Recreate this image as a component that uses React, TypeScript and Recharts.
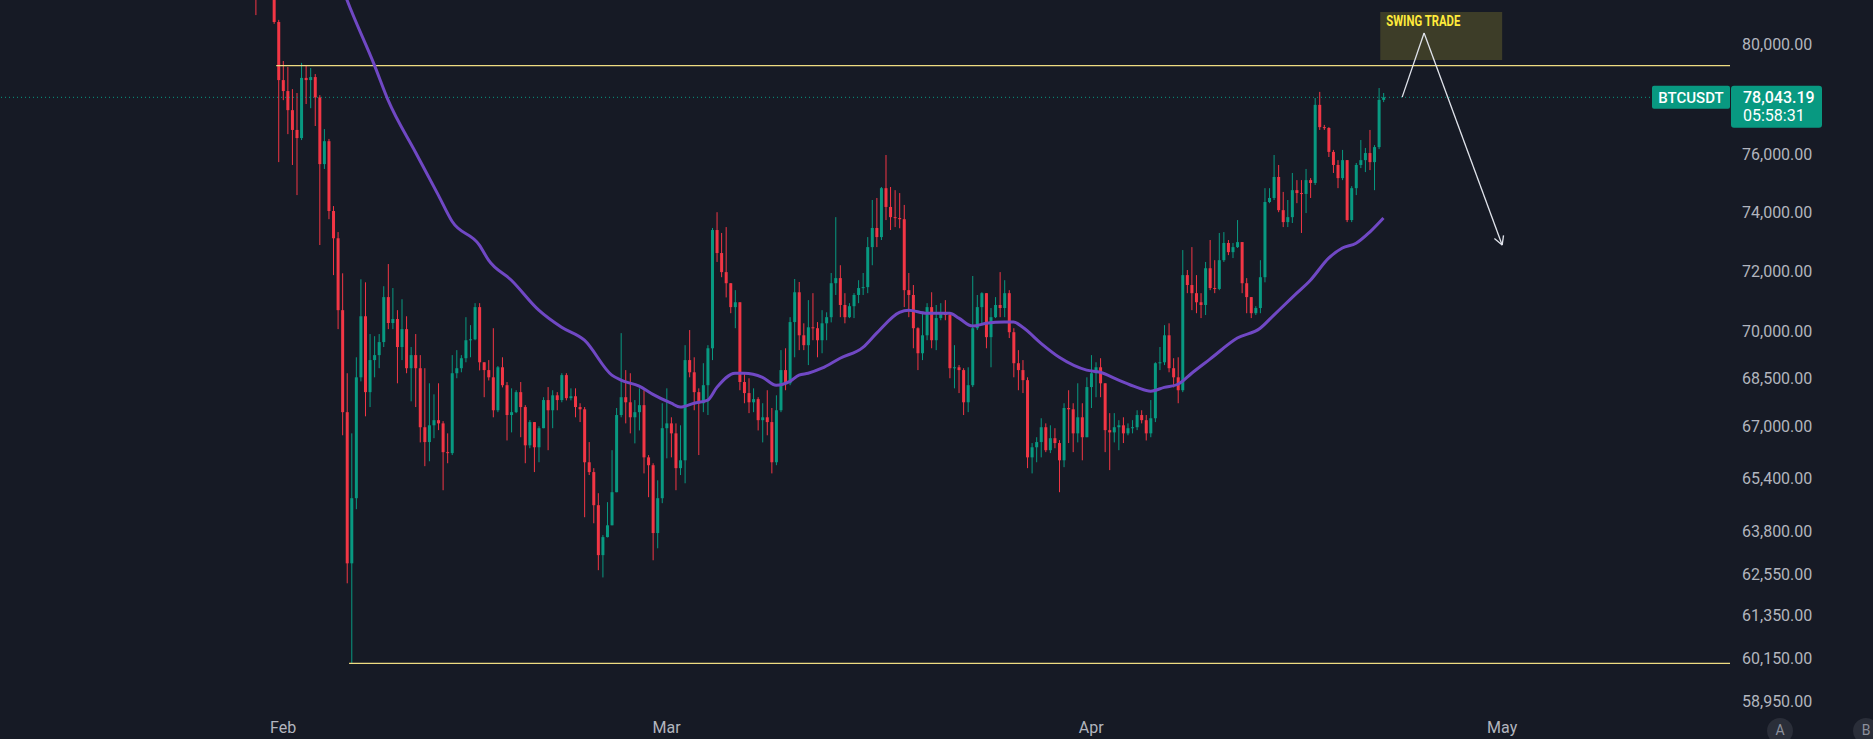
import React from "react";
import { ComposedChart, Bar, Line, XAxis, YAxis, ReferenceLine, ReferenceArea } from "recharts";

// BTCUSDT 8h candles. Index 0 = Feb 1 00:00, 3 candles per day.
// Each candle opens at the previous close (continuous market).
const firstIndex = -6;
const firstOpen = 83400;

const closes = [
  82300, 82900, 82500, 82700, 80820, 78670,
  78270, 77580, 76870, 76580, 78750, 78670, 78780, 78040, 75660, 76470, 74030, 73100,
  70700, 67430, 62860, 64790, 68530, 70500, 68060, 69080, 69240, 69660, 71130, 70280,
  70410, 69500, 70080, 68820, 69240, 68820, 66960, 66500, 67020, 67180, 67080, 66190,
  66160, 68660, 68820, 69140, 69720, 69750, 70800, 69010, 68760, 68530, 67490, 68850,
  68280, 67340, 67430, 68060, 67590, 66400, 67120, 66340, 66930, 67810, 67490, 67960,
  67810, 68600, 67870, 67930, 67590, 67520, 65880, 65580, 64580, 63100, 63630, 63980,
  64970, 67340, 67900, 67740, 67270, 67430, 67650, 66030, 65790, 63750, 64790, 66930,
  67080, 66770, 65700, 65940, 69080, 68690, 68060, 67710, 68280, 69460, 73380, 72600,
  71960, 71590, 70800, 70960, 68380, 68030, 67740, 67840, 67180, 67270, 67120, 65880,
  67490, 68760, 68340, 70310, 71290, 69880, 69560, 70140, 70110, 69720, 70270, 70470,
  71590, 71760, 70870, 70470, 70830, 71200, 71430, 71460, 72800, 73450, 73140, 74820,
  74170, 73820, 73790, 73750, 71360, 71200, 70110, 69300, 69880, 70800, 69720, 70440,
  70630, 70540, 68820, 68850, 68760, 67740, 68280, 70110, 70800, 71260, 69820, 70470,
  70870, 70770, 71260, 69980, 68980, 68760, 68440, 66030, 66340, 66500, 66960, 66250,
  66620, 66470, 65940, 67560, 67520, 66770, 67270, 66650, 68220, 68660, 68850, 68340,
  66870, 66800, 66960, 67020, 66770, 66930, 66960, 67340, 67180, 66770, 67240, 68980,
  69010, 69880, 68820, 68530, 68120, 71860, 71530, 71260, 70960, 70870, 72090, 71430,
  71400, 72360, 72940, 72630, 72800, 72970, 71590, 71130, 70600, 70770, 71790, 74340,
  74480, 75210, 74060, 73650, 73820, 74750, 74650, 74620, 75100, 75000, 77770, 76970,
  76940, 76090, 75630, 75170, 75800, 73720, 74820, 75630, 75800, 76050, 75730, 76260,
  77950, 78043.19,
];

const highs = [
  83900, 83300, 83100, 83000, 83000, 80900,
  79370, 79150, 78340, 78200, 79300, 79220, 79110, 78890, 78120, 76900, 76550, 74200,
  73310, 71920, 68660, 66770, 69170, 71720, 71620, 69920, 69850, 69920, 71490, 72230,
  71430, 70700, 71060, 70500, 69500, 69920, 69240, 68820, 68340, 67990, 68340, 67150,
  66770, 69240, 69400, 69240, 70470, 70210, 70930, 70930, 69010, 69080, 70110, 68890,
  69170, 68380, 68180, 68120, 68380, 67650, 67180, 67120, 66990, 67900, 68220, 68120,
  68060, 68660, 68660, 68180, 68180, 67710, 67590, 66500, 65700, 64940, 63690, 64670,
  66250, 67560, 69950, 68760, 68660, 67810, 68180, 68120, 66100, 65850, 65330, 67710,
  68180, 67270, 67080, 67020, 69560, 70050, 69170, 68180, 68980, 69560, 73450, 73990,
  73280, 73480, 71590, 71360, 70960, 68690, 68500, 68180, 67900, 67710, 68120, 67560,
  67960, 69400, 69460, 70470, 71730, 71630, 70270, 71030, 71260, 70310, 70700, 70630,
  71930, 73820, 72190, 71260, 70930, 71260, 71690, 71930, 73140, 74410, 74480, 74860,
  75980, 74860, 74750, 74650, 74240, 71930, 71530, 70140, 70630, 70930, 71290, 70870,
  70930, 71030, 70600, 69560, 68920, 68820, 68850, 71830, 71200, 71290, 71260, 70770,
  71130, 71960, 71690, 71360, 70110, 69400, 69080, 68530, 66470, 66650, 67240, 67080,
  67020, 66930, 66560, 67710, 68120, 67710, 68340, 67710, 68530, 69240, 69010, 69140,
  68340, 67400, 67400, 67180, 67270, 67080, 67180, 67490, 67490, 67340, 67810, 69010,
  69500, 70210, 70270, 69140, 69170, 72700, 72030, 72800, 71860, 71260, 72300, 73040,
  72360, 73280, 73310, 73040, 72940, 73720, 72970, 71760, 71130, 70830, 72360, 74820,
  74820, 75980, 75630, 74690, 74410, 75350, 75100, 75100, 75490, 75170, 78020, 78240,
  77050, 76970, 76160, 75800, 76160, 75800, 74890, 75700, 76510, 76230, 76870, 76330,
  78380, 78200,
];

const lows = [
  81080, 82000, 82100, 82200, 80750, 75730,
  77940, 76720, 75630, 74580, 76510, 77800, 77650, 77010, 72870, 75490, 73750, 71860,
  70080, 66710, 62280, 60010, 64460, 68400, 67300, 67590, 68530, 68820, 69500, 70080,
  70080, 68340, 69080, 68660, 67770, 67590, 66490, 65760, 65910, 66620, 66870, 65030,
  65850, 66100, 68500, 68690, 69010, 69170, 69720, 68750, 67900, 68430, 67270, 67430,
  68210, 66550, 66800, 67400, 66650, 65850, 66310, 65580, 65880, 66930, 66250, 66930,
  67490, 67740, 67800, 67800, 67270, 67120, 64220, 65490, 64040, 62660, 62450, 63620,
  63980, 64970, 67270, 67080, 66770, 66460, 66860, 65540, 64820, 62950, 63300, 64640,
  66000, 66030, 65030, 65490, 65240, 68530, 67490, 66100, 67430, 67340, 69080, 72300,
  71790, 71120, 70600, 70110, 68120, 67710, 67400, 67430, 66860, 66490, 66710, 65540,
  65790, 67430, 68120, 68280, 69170, 69400, 69400, 68920, 69720, 69170, 69300, 69720,
  70300, 71200, 70470, 70270, 70440, 70440, 70930, 71200, 71260, 72190, 72800, 73040,
  73720, 73380, 73480, 73440, 70800, 70470, 69460, 68760, 69080, 69720, 69460, 69400,
  70370, 70370, 68500, 68180, 68030, 67340, 67430, 68220, 70050, 70210, 69460, 68850,
  70440, 70470, 70470, 69790, 68530, 68120, 68030, 65700, 65540, 65880, 66030, 66190,
  66160, 66310, 64970, 65730, 66470, 66190, 66490, 65940, 66650, 67560, 67900, 67900,
  66190, 65640, 66490, 66250, 66470, 66710, 66770, 66870, 67080, 66550, 66650, 67120,
  68760, 68920, 68690, 68210, 67710, 68060, 71260, 70700, 70600, 70440, 70540, 71360,
  71260, 71360, 72300, 72530, 72430, 72770, 71260, 70600, 70440, 70540, 70600, 71620,
  74300, 74410, 73990, 73480, 73480, 73620, 74300, 73280, 73960, 74480, 74930, 76870,
  76870, 75910, 75350, 74820, 75100, 73650, 73650, 74580, 75520, 75380, 75450, 74750,
  76190, 77870,
];

// purple moving average at these candle indexes
const maIndex = [
  10, 14, 20, 23, 29, 34, 37, 43, 45, 50, 56, 61, 66, 72, 74, 78, 81, 85, 87, 90, 93, 95,
  99, 101, 105, 108, 111, 113, 115, 118, 122, 127, 130, 135, 137, 141, 146, 148, 151, 154,
  158, 160, 162, 166, 170, 176, 179, 183, 187, 190, 193, 196, 199, 203, 209, 214, 217, 222,
  225, 229, 232, 235, 238, 241,
];
const maValues = [
  83600, 81650, 79220, 77940, 76080, 74580, 73680, 72870, 72360, 71690, 70700, 70140, 69720,
  68600, 68440, 68250, 67990, 67710, 67590, 67710, 67810, 68210, 68660, 68660, 68530, 68280,
  68400, 68600, 68660, 68820, 69140, 69490, 69950, 70630, 70700, 70600, 70600, 70440, 70180,
  70270, 70310, 70310, 70140, 69620, 69170, 68760, 68690, 68440, 68210, 68090, 68210, 68310,
  68660, 69110, 69790, 70110, 70540, 71260, 71690, 72430, 72770, 72930, 73310, 73790,
];

const monthTicks = [0, 84, 177, 267];
const monthLabels = ["Feb", "Mar", "Apr", "May"];
const priceTicks = [
  80000, 76000, 74000, 72000, 70000, 68500, 67000, 65400, 63800, 62550, 61350, 60150, 58950,
];

const symbol = "BTCUSDT";
const lastPrice = 78043.19;
const countdown = "05:58:31";
const resistance = 79200;
const support = 60010;

const BG = "#161a25";
const UP = "#089981";
const DOWN = "#f23645";
const TEXT = "#b2b5be";
const LEVEL = "#efdc82";
const ARROW = "#e0e3eb";
const MA = "#7048c4";

const candles = closes.map((c, k) => ({
  i: firstIndex + k,
  open: k === 0 ? firstOpen : closes[k - 1],
  close: c,
  high: highs[k],
  low: lows[k],
}));
const maData = maIndex.map((i, k) => ({ i, ma: maValues[k] }));

const fmt = (v: number) =>
  v.toLocaleString("en-US", { minimumFractionDigits: 2, maximumFractionDigits: 2 });

// bar gets [low, high] in pixels; body placed inside it on the log scale
const Candle = (props: any) => {
  const { x, y, width, height, payload } = props;
  if (x == null || y == null || !payload) return null;
  const { open, close, high, low } = payload;
  const color = close >= open ? UP : DOWN;
  const span = Math.log(high) - Math.log(low) || 1;
  const py = (v: number) => y + (height * (Math.log(high) - Math.log(v))) / span;
  const top = py(Math.max(open, close));
  const bot = py(Math.min(open, close));
  const cx = x + width / 2;
  return (
    <g>
      <line x1={cx} x2={cx} y1={y} y2={y + height} stroke={color} strokeWidth={1} />
      <rect x={x} y={top} width={width} height={Math.max(bot - top, 1)} fill={color} />
    </g>
  );
};

const PriceTick = ({ x, y, payload }: any) => (
  <text x={x} y={y} dy="0.36em" fill={TEXT} fontSize={16} fontFamily="Roboto" textAnchor="start">
    {fmt(payload.value)}
  </text>
);

const PriceTag = ({ viewBox }: any) => {
  if (!viewBox) return null;
  const right = viewBox.x + viewBox.width;
  const y = viewBox.y;
  return (
    <g fontFamily="Roboto">
      <rect x={right - 78} y={y - 11.5} width={78} height={23} rx={2} fill={UP} />
      <text x={right - 39} y={y} dy="0.36em" textAnchor="middle" fill="#ffffff" fontSize={15} fontWeight={500}>
        {symbol}
      </text>
      <rect x={right + 1} y={y - 11.5} width={91} height={42} rx={3} fill={UP} />
      <text x={right + 13} y={y} dy="0.36em" fill="#ffffff" fontSize={16} fontWeight={500}>
        {fmt(lastPrice)}
      </text>
      <text x={right + 13} y={y + 18} dy="0.36em" fill="#ffffff" fontSize={16}>
        {countdown}
      </text>
    </g>
  );
};

const SwingLabel = ({ viewBox }: any) => {
  if (!viewBox) return null;
  return (
    <text
      x={viewBox.x + 6}
      y={viewBox.y + 8.5}
      dy="0.36em"
      fill="#ffeb3b"
      fontSize={14}
      fontWeight={700}
      fontFamily="Roboto"
      textLength={74}
      lengthAdjust="spacingAndGlyphs"
    >
      SWING TRADE
    </text>
  );
};

const Badge = ({ left, label }: { left: number; label: string }) => (
  <div
    style={{
      position: "absolute",
      left: left - 13,
      top: 718,
      width: 26,
      height: 26,
      borderRadius: 13,
      background: "#2a2e39",
      color: "#8c909c",
      fontFamily: "Roboto",
      fontSize: 14,
      lineHeight: "24px",
      textAlign: "center",
    }}
  >
    {label}
  </div>
);

export default function App() {
  return (
    <div
      style={{
        position: "absolute",
        left: 0,
        top: 0,
        width: 1873,
        height: 739,
        background: BG,
        overflow: "hidden",
        fontFamily: "Roboto",
      }}
    >
      <ComposedChart width={1873} height={739} data={candles} margin={{ top: 0, right: 0, bottom: 0, left: 0 }}>
        <XAxis
          dataKey="i"
          type="number"
          domain={[-62, 316.9]}
          allowDataOverflow
          ticks={monthTicks}
          interval={0}
          tickFormatter={(v: number) => monthLabels[monthTicks.indexOf(v)] ?? ""}
          axisLine={false}
          tickLine={false}
          tickSize={0}
          tickMargin={11}
          height={28}
          tick={{ fill: TEXT, fontSize: 16, fontFamily: "Roboto" }}
        />
        <YAxis
          orientation="right"
          scale="log"
          domain={[58695, 81650]}
          allowDataOverflow
          ticks={priceTicks}
          interval={0}
          width={143}
          axisLine={false}
          tickLine={false}
          tickSize={0}
          tickMargin={12}
          tick={<PriceTick />}
        />
        <ReferenceLine y={lastPrice} stroke={UP} strokeDasharray="1 3" strokeWidth={1} label={<PriceTag />} />
        <ReferenceLine
          segment={[{ x: -1.5, y: resistance }, { x: 316.9, y: resistance }]}
          stroke={LEVEL}
          strokeWidth={1.3}
        />
        <ReferenceLine
          segment={[{ x: 14.45, y: support }, { x: 316.9, y: support }]}
          stroke={LEVEL}
          strokeWidth={1.3}
        />
        <Bar
          dataKey={(d: any) => [d.low, d.high]}
          barSize={3}
          shape={<Candle />}
          isAnimationActive={false}
        />
        <Line
          data={maData}
          dataKey="ma"
          type="monotone"
          stroke={MA}
          strokeWidth={3}
          dot={false}
          activeDot={false}
          isAnimationActive={false}
        />
        <ReferenceArea
          x1={240.3}
          x2={267}
          y1={79406}
          y2={81195}
          fill="#ffeb3b"
          fillOpacity={0.17}
          stroke="none"
          label={<SwingLabel />}
        />
        <ReferenceLine segment={[{ x: 245.1, y: 78050 }, { x: 249.9, y: 80410 }]} stroke={ARROW} strokeWidth={1.3} />
        <ReferenceLine segment={[{ x: 249.9, y: 80410 }, { x: 267, y: 72870 }]} stroke={ARROW} strokeWidth={1.3} />
        <ReferenceLine segment={[{ x: 267, y: 72870 }, { x: 267.3, y: 73200 }]} stroke={ARROW} strokeWidth={1.3} />
        <ReferenceLine segment={[{ x: 267, y: 72870 }, { x: 265.3, y: 73090 }]} stroke={ARROW} strokeWidth={1.3} />
      </ComposedChart>
      <Badge left={1780} label="A" />
      <Badge left={1866} label="B" />
    </div>
  );
}
